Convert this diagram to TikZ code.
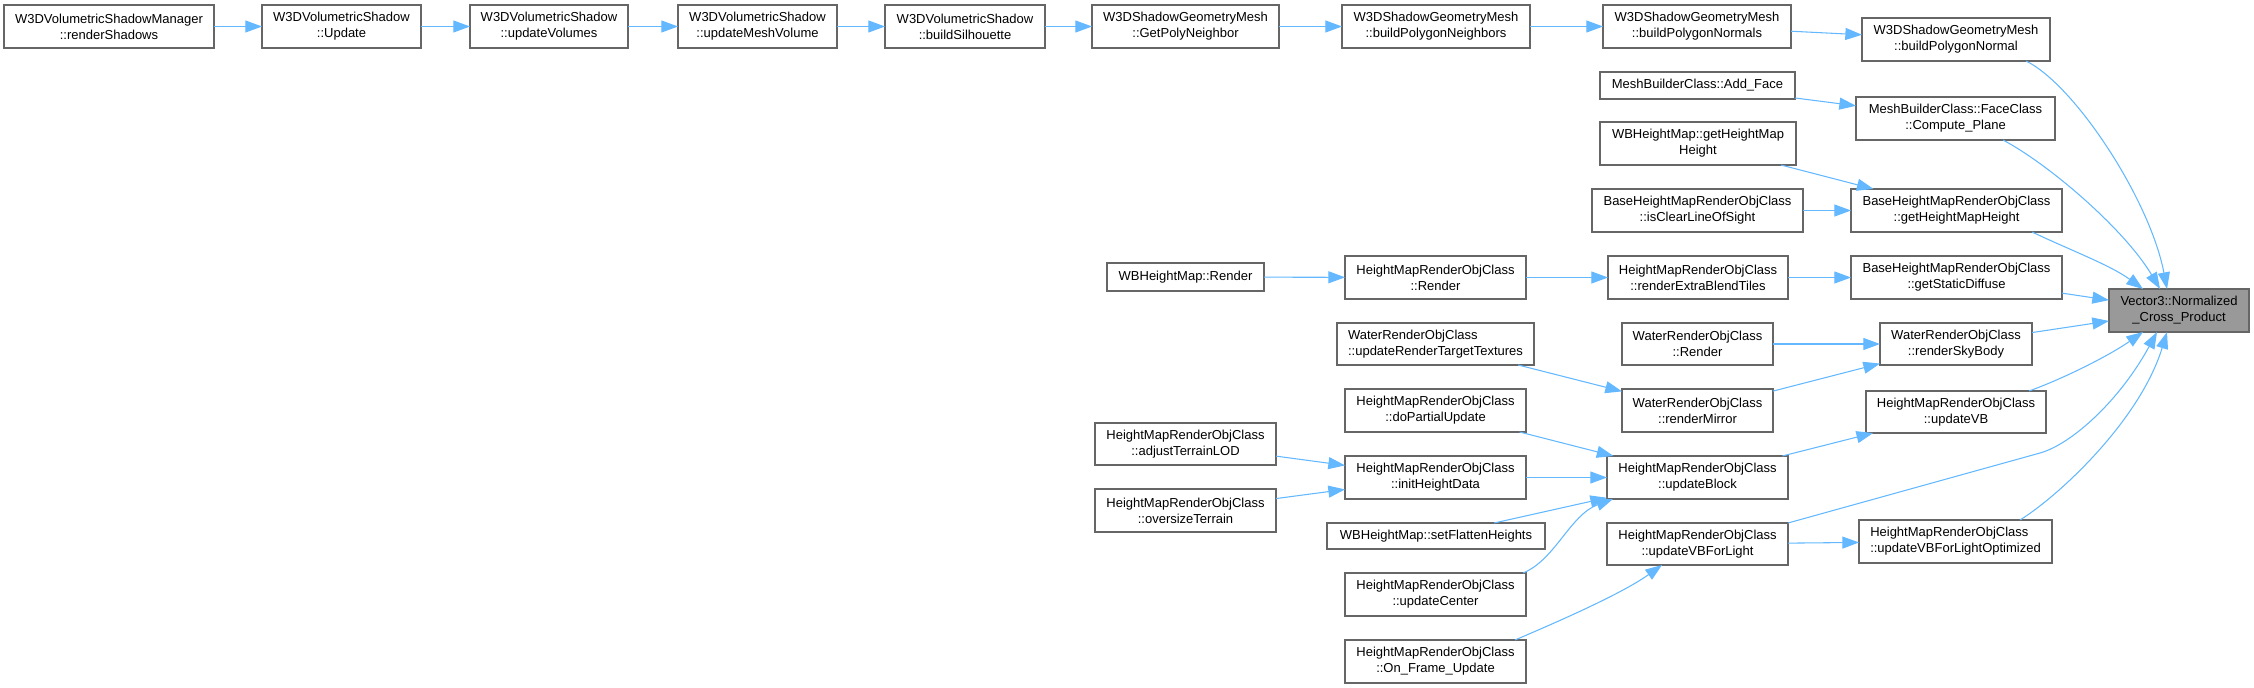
\documentclass[tikz,border=0pt]{standalone}
\usepackage{fontspec}
\setmainfont{Liberation Sans}
\usetikzlibrary{arrows.meta,calc}
\definecolor{edgecol}{HTML}{63B8FF}
\definecolor{boxline}{HTML}{666666}
\definecolor{hifill}{HTML}{999999}
\tikzset{
  box/.style={draw=boxline,line width=1.1pt,fill=white,rectangle,inner sep=0pt,outer sep=0pt,
    align=center,font=\fontsize{9.75}{12}\selectfont},
  leftbox/.style={align=left},
  hibox/.style={fill=hifill},
  edge/.style={draw=edgecol,line width=0.8pt,-{Triangle[length=12.5pt,width=9pt]}}
}
\newcommand\mybox[7][]{%
  \node[box,#1,minimum width={(#5-#3)*0.75pt},minimum height={(#6-#4)*0.75pt}]
    (#2) at ({(#3+#5)/2},{(#4+#6)/2}) {#7};}
\begin{document}
\begin{tikzpicture}[x=0.75pt,y=-0.75pt]
\useasboundingbox (0,0) rectangle (2254,688);
% top row
\mybox{rs}{4}{5}{214}{48}{W3DVolumetricShadowManager\\::renderShadows}
\mybox{upd}{262}{5}{421}{48}{W3DVolumetricShadow\\::Update}
\mybox{uvol}{470}{5}{628}{48}{W3DVolumetricShadow\\::updateVolumes}
\mybox{umv}{678}{5}{837}{48}{W3DVolumetricShadow\\::updateMeshVolume}
\mybox{bsil}{885}{5}{1045}{48}{W3DVolumetricShadow\\::buildSilhouette}
\mybox{gpn}{1092}{5}{1279}{48}{W3DShadowGeometryMesh\\::GetPolyNeighbor}
\mybox{bpnb}{1342}{5}{1530}{48}{W3DShadowGeometryMesh\\::buildPolygonNeighbors}
\mybox{bpns}{1603}{5}{1791}{48}{W3DShadowGeometryMesh\\::buildPolygonNormals}
\mybox{bpnl}{1862}{18}{2050}{61}{W3DShadowGeometryMesh\\::buildPolygonNormal}
% column ~1600
\mybox{addface}{1600}{72}{1795}{99}{MeshBuilderClass::Add\_Face}
\mybox{wbgh}{1600}{122}{1796}{165}{WBHeightMap::getHeightMap\\Height}
\mybox{iclos}{1592}{189}{1803}{232}{BaseHeightMapRenderObjClass\\::isClearLineOfSight}
\mybox{rebt}{1608}{256}{1788}{299}{HeightMapRenderObjClass\\::renderExtraBlendTiles}
\mybox{wrender}{1622}{323}{1773}{365}{WaterRenderObjClass\\::Render}
\mybox{rmirror}{1622}{389}{1773}{432}{WaterRenderObjClass\\::renderMirror}
\mybox{ublock}{1607}{456}{1788}{499}{HeightMapRenderObjClass\\::updateBlock}
\mybox{uvbfl}{1607}{523}{1788}{565}{HeightMapRenderObjClass\\::updateVBForLight}
% column ~1860
\mybox{cplane}{1856}{97}{2055}{140}{MeshBuilderClass::FaceClass\\::Compute\_Plane}
\mybox{ghmh}{1851}{189}{2062}{232}{BaseHeightMapRenderObjClass\\::getHeightMapHeight}
\mybox{gsd}{1851}{256}{2062}{299}{BaseHeightMapRenderObjClass\\::getStaticDiffuse}
\mybox{rsb}{1880}{323}{2032}{365}{WaterRenderObjClass\\::renderSkyBody}
\mybox{uvb}{1866}{391}{2046}{433}{HeightMapRenderObjClass\\::updateVB}
\mybox[leftbox]{uvblo}{1859}{520}{2052}{563}{HeightMapRenderObjClass\\::updateVBForLightOptimized}
% target
\mybox[hibox]{v3}{2109}{289}{2249}{332}{Vector3::Normalized\\\_Cross\_Product}
% column ~1340
\mybox{hmrender}{1345}{256}{1526}{299}{HeightMapRenderObjClass\\::Render}
\mybox[leftbox]{urtt}{1337}{323}{1534}{365}{WaterRenderObjClass\\::updateRenderTargetTextures}
\mybox{dpu}{1345}{389}{1526}{432}{HeightMapRenderObjClass\\::doPartialUpdate}
\mybox{ihd}{1345}{456}{1526}{499}{HeightMapRenderObjClass\\::initHeightData}
\mybox{sfh}{1327}{523}{1545}{549}{WBHeightMap::setFlattenHeights}
\mybox{ucenter}{1345}{573}{1526}{616}{HeightMapRenderObjClass\\::updateCenter}
\mybox{ofu}{1345}{640}{1526}{683}{HeightMapRenderObjClass\\::On\_Frame\_Update}
% column ~1100
\mybox{wbrender}{1107}{263}{1264}{291}{WBHeightMap::Render}
\mybox{atlod}{1095}{423}{1276}{465}{HeightMapRenderObjClass\\::adjustTerrainLOD}
\mybox{ost}{1095}{489}{1276}{532}{HeightMapRenderObjClass\\::oversizeTerrain}

% top row edges
\draw[edge] (rs) -- (upd);
\draw[edge] (upd) -- (uvol);
\draw[edge] (uvol) -- (umv);
\draw[edge] (umv) -- (bsil);
\draw[edge] (bsil) -- (gpn);
\draw[edge] (gpn) -- (bpnb);
\draw[edge] (bpnb) -- (bpns);
\draw[edge] (bpns) -- (bpnl);
% middle edges
\draw[edge] (addface) -- (cplane);
\draw[edge] (wbgh) -- (ghmh);
\draw[edge] (iclos) -- (ghmh);
\draw[edge] (wbrender) -- (hmrender);
\draw[edge] (hmrender) -- (rebt);
\draw[edge] (rebt) -- (gsd);
\draw[edge] (wrender) -- (rsb);
\draw[edge] (rmirror) -- (rsb);
\draw[edge] (urtt) -- (rmirror);
\draw[edge] (dpu) -- (ublock);
\draw[edge] (ihd) -- (ublock);
\draw[edge] (sfh) -- (ublock);
\draw[edge] (ublock) -- (uvb);
\draw[edge] (atlod) -- (ihd);
\draw[edge] (ost) -- (ihd);
\draw[edge] (uvbfl) -- (uvblo);
\draw[edge] ($(ucenter.north east)+(-3,0)$) .. controls (1555,560) and (1570,515) .. ($(ublock.south west)+(6,0)$);
\draw[edge] ($(ofu.north east)+(-11,0)$) .. controls (1550,625) and (1620,595) .. ($(uvbfl.south west)+(55,0)$);
% edges into Vector3
\draw[edge] (gsd) -- (v3);
\draw[edge] (rsb) -- (v3);
\draw[edge] ($(bpnl.south east)+(-24,0)$) .. controls (2075,85) and (2150,200) .. ($(v3.north west)+(58,0)$);
\draw[edge] ($(cplane.south east)+(-52,0)$) .. controls (2050,165) and (2125,230) .. ($(v3.north west)+(51,0)$);
\draw[edge] ($(ghmh.south east)+(-30,0)$) .. controls (2070,250) and (2110,265) .. ($(v3.north west)+(34,0)$);
\draw[edge] ($(uvb.north east)+(-17,0)$) .. controls (2065,378) and (2110,355) .. ($(v3.south west)+(34,0)$);
\draw[edge] (uvbfl.north east) -- (2040,453) .. controls (2072,444) and (2120,400) .. ($(v3.south west)+(48,0)$);
\draw[edge] ($(uvblo.north east)+(-32,0)$) .. controls (2060,495) and (2140,420) .. ($(v3.south west)+(58,0)$);
\end{tikzpicture}
\end{document}
